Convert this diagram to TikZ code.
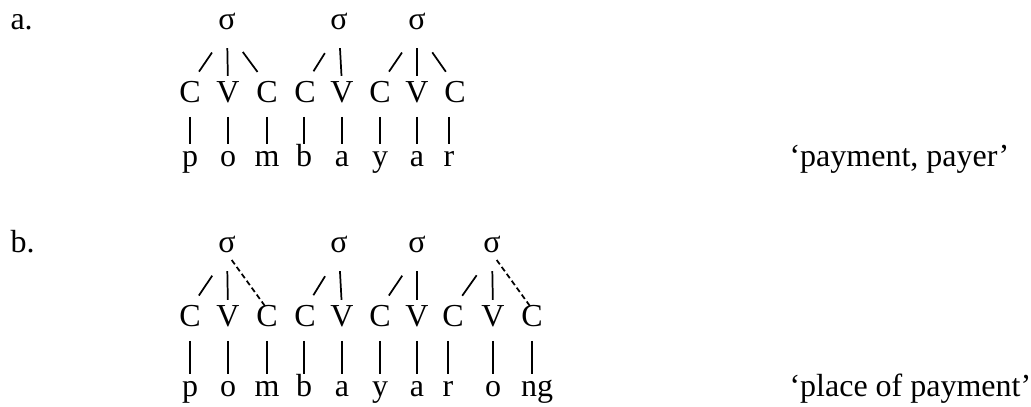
\documentclass[tikz,border=0pt]{standalone}
\usepackage{fontspec}
\setmainfont{Liberation Serif}

\begin{document}
\begin{tikzpicture}[
    x=0.375pt, y=-0.375pt,
    font=\fontsize{12}{14}\selectfont,
    every node/.style={inner sep=0pt, anchor=base},
    syl/.style={text height=0.45em, text depth=0pt},
    seg/.style={text height=0.66em, text depth=0pt},
    phon/.style={text height=0.45em, text depth=0.2em},
    lbl/.style={anchor=base west},
    assoc/.style={line width=0.65pt, shorten <=6.6pt, shorten >=3.4pt},
    slant/.style={line width=0.65pt, shorten <=10pt, shorten >=6pt},
    link/.style={line width=0.65pt, shorten <=5pt, shorten >=3.75pt},
    extra/.style={line width=0.65pt, dash pattern=on 2pt off 1.2pt, shorten <=3pt, shorten >=1.2pt},
]
\useasboundingbox (0,0) rectangle (1031,407);

% ── (a) pombayar ────────────────────────────────────
\node[lbl] (alab) at (10,30) {a.};
\node[syl] (aS1) at (227,30) {σ};
\node[syl] (aS2) at (339,30) {σ};
\node[syl] (aS3) at (417,30) {σ};

% Skelett
\node[seg] (aC1) at (190,103) {C};
\node[seg] (aC2) at (228,103) {V};
\node[seg] (aC3) at (267,103) {C};
\node[seg] (aC4) at (305,103) {C};
\node[seg] (aC5) at (342,103) {V};
\node[seg] (aC6) at (380,103) {C};
\node[seg] (aC7) at (417,103) {V};
\node[seg] (aC8) at (455,103) {C};

% Segmente
\node[phon] (aP1) at (190,167) {p};
\node[phon] (aP2) at (228,167) {o};
\node[phon] (aP3) at (267,167) {m};
\node[phon] (aP4) at (304,167) {b};
\node[phon] (aP5) at (342,167) {a};
\node[phon] (aP6) at (380,167) {y};
\node[phon] (aP7) at (417,167) {a};
\node[phon] (aP8) at (449,167) {r};
\node[lbl] (agloss) at (789,167) {‘payment, payer’};

% Silben -> Skelett
\draw[slant] (aS1.south) -- (aC1.north);
\draw[assoc] (aS1.south) -- (aC2.north);
\draw[slant] (aS1.south) -- (aC3.north);
\draw[slant] (aS2.south) -- (aC4.north);
\draw[assoc] (aS2.south) -- (aC5.north);
\draw[slant] (aS3.south) -- (aC6.north);
\draw[assoc] (aS3.south) -- (aC7.north);
\draw[slant] (aS3.south) -- (aC8.north);

% Skelett -> Segmente
\draw[link] (aP1 |- aC1.south) -- (aP1.north);
\draw[link] (aP2 |- aC2.south) -- (aP2.north);
\draw[link] (aP3 |- aC3.south) -- (aP3.north);
\draw[link] (aP4 |- aC4.south) -- (aP4.north);
\draw[link] (aP5 |- aC5.south) -- (aP5.north);
\draw[link] (aP6 |- aC6.south) -- (aP6.north);
\draw[link] (aP7 |- aC7.south) -- (aP7.north);
\draw[link] (aP8 |- aC8.south) -- (aP8.north);

% ── (b) pombayarong ─────────────────────────────────
\node[lbl] (blab) at (10,253) {b.};
\node[syl] (bS1) at (227,253) {σ};
\node[syl] (bS2) at (339,253) {σ};
\node[syl] (bS3) at (417,253) {σ};
\node[syl] (bS4) at (492,253) {σ};

% Skelett
\node[seg] (bC1)  at (190,327) {C};
\node[seg] (bC2)  at (228,327) {V};
\node[seg] (bC3)  at (267,327) {C};
\node[seg] (bC4)  at (305,327) {C};
\node[seg] (bC5)  at (342,327) {V};
\node[seg] (bC6)  at (380,327) {C};
\node[seg] (bC7)  at (417,327) {V};
\node[seg] (bC8)  at (453,327) {C};
\node[seg] (bC9)  at (493,327) {V};
\node[seg] (bC10) at (532,327) {C};

% Segmente
\node[phon] (bP1)  at (190,397) {p};
\node[phon] (bP2)  at (228,397) {o};
\node[phon] (bP3)  at (267,397) {m};
\node[phon] (bP4)  at (304,397) {b};
\node[phon] (bP5)  at (342,397) {a};
\node[phon] (bP6)  at (380,397) {y};
\node[phon] (bP7)  at (417,397) {a};
\node[phon] (bP8)  at (448,397) {r};
\node[phon] (bP9)  at (493,397) {o};
\node[phon] (bP10) at (537,397) {ng};
\node[lbl] (bgloss) at (789,397) {‘place of payment’};

% Silben -> Skelett
\draw[slant] (bS1.south) -- (bC1.north);
\draw[assoc] (bS1.south) -- (bC2.north);
\draw[extra] (bS1.south) -- (bC3.north);
\draw[slant] (bS2.south) -- (bC4.north);
\draw[assoc] (bS2.south) -- (bC5.north);
\draw[slant] (bS3.south) -- (bC6.north);
\draw[assoc] (bS3.south) -- (bC7.north);
\draw[slant] (bS4.south) -- (bC8.north);
\draw[assoc] (bS4.south) -- (bC9.north);
\draw[extra] (bS4.south) -- (bC10.north);

% Skelett -> Segmente
\draw[link] (bP1 |- bC1.south) -- (bP1.north);
\draw[link] (bP2 |- bC2.south) -- (bP2.north);
\draw[link] (bP3 |- bC3.south) -- (bP3.north);
\draw[link] (bP4 |- bC4.south) -- (bP4.north);
\draw[link] (bP5 |- bC5.south) -- (bP5.north);
\draw[link] (bP6 |- bC6.south) -- (bP6.north);
\draw[link] (bP7 |- bC7.south) -- (bP7.north);
\draw[link] (bP8 |- bC8.south) -- (bP8.north);
\draw[link] (bP9 |- bC9.south) -- (bP9.north);
\draw[link] (bC10.south) -- (bC10 |- bP10.north);

\end{tikzpicture}
\end{document}
